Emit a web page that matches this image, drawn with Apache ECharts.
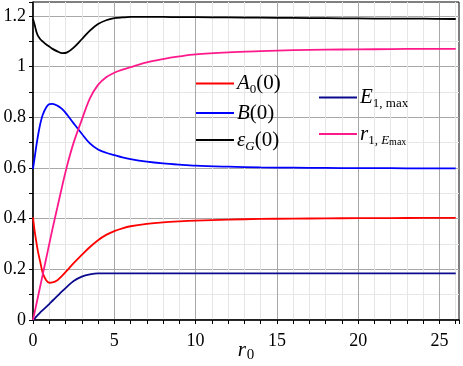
<!DOCTYPE html>
<html>
<head>
<meta charset="utf-8">
<script src="https://cdn.jsdelivr.net/npm/echarts@6/dist/echarts.min.js"></script>
<style>
  html, body { margin: 0; padding: 0; background: #fff; }
  #chart { width: 463px; height: 366px; }
</style>
</head>
<body>
<div id="chart"></div>
<script>
// r0 sample points (denser near 0 where curves bend)
const r0 = [0, 0.1, 0.2, 0.3, 0.45, 0.6, 0.8, 1, 1.2, 1.5, 1.8, 2.1, 2.5, 3, 3.5, 4, 4.5, 5, 5.5, 6, 7, 8, 9, 10, 12, 14, 16, 18, 20, 22, 24, 26]

const A0 = [0.405, 0.352, 0.31, 0.272, 0.228, 0.185, 0.158, 0.147, 0.148, 0.157, 0.175, 0.196, 0.224, 0.257, 0.288, 0.315, 0.336, 0.351, 0.362, 0.37, 0.379, 0.385, 0.389, 0.392, 0.396, 0.399, 0.4, 0.401, 0.402, 0.402, 0.403, 0.403]
const B0 = [0.596, 0.64, 0.685, 0.725, 0.775, 0.81, 0.838, 0.852, 0.853, 0.846, 0.832, 0.81, 0.776, 0.735, 0.697, 0.673, 0.66, 0.651, 0.642, 0.635, 0.625, 0.618, 0.613, 0.609, 0.605, 0.602, 0.601, 0.6, 0.599, 0.599, 0.598, 0.598]
const epsG = [1.188, 1.165, 1.14, 1.122, 1.108, 1.099, 1.088, 1.079, 1.07, 1.06, 1.053, 1.056, 1.075, 1.108, 1.142, 1.168, 1.183, 1.191, 1.194, 1.196, 1.196, 1.196, 1.195, 1.195, 1.194, 1.193, 1.192, 1.191, 1.19, 1.189, 1.189, 1.188]
const E1max = [0, 0.006, 0.013, 0.02, 0.03, 0.039, 0.051, 0.063, 0.076, 0.095, 0.114, 0.132, 0.154, 0.171, 0.18, 0.184, 0.184, 0.184, 0.184, 0.184, 0.184, 0.184, 0.184, 0.184, 0.184, 0.184, 0.184, 0.184, 0.184, 0.184, 0.184, 0.184]
const r1Emax = [0, 0.03, 0.06, 0.09, 0.135, 0.18, 0.24, 0.3, 0.36, 0.445, 0.53, 0.61, 0.7, 0.79, 0.875, 0.928, 0.958, 0.976, 0.988, 0.998, 1.017, 1.03, 1.04, 1.048, 1.056, 1.061, 1.065, 1.067, 1.068, 1.069, 1.07, 1.07]

const serif = 'Liberation Serif'

// legend label markup (subscripts via rich text)
const labels = {
  'A0(0)': '{i|A}{s|0}{n|(0)}',
  'B(0)': '{i|B}{n|(0)}',
  'εG(0)': '{i|ε}{si|G}{n|(0)}',
  'E1,max': '{i|E}{s|1, max}',
  'r1,Emax': '{i|r}{s|1, }{si|E}{ss|max}'
}
const rich = {
  i: { fontFamily: serif, fontSize: 21, fontStyle: 'italic', lineHeight: 26, color: '#000' },
  n: { fontFamily: serif, fontSize: 21, lineHeight: 26, color: '#000' },
  s: { fontFamily: serif, fontSize: 13, lineHeight: 6, verticalAlign: 'bottom', color: '#000' },
  si: { fontFamily: serif, fontSize: 13, fontStyle: 'italic', lineHeight: 6, verticalAlign: 'bottom', color: '#000' },
  ss: { fontFamily: serif, fontSize: 10, lineHeight: 2, verticalAlign: 'bottom', color: '#000' }
}

function pairs(ys) {
  return r0.map((x, k) => [x, ys[k]])
}

function mkLine(name, ys, color) {
  return {
    name: name,
    type: 'line',
    data: pairs(ys),
    showSymbol: false,
    symbol: 'none',
    smooth: 0.35,
    lineStyle: { color: color, width: 1.8 },
    itemStyle: { color: color }
  }
}

let chart = echarts.init(document.getElementById('chart'), null, { renderer: 'canvas' })

chart.setOption({
  animation: false,
  backgroundColor: '#fff',
  textStyle: { fontFamily: serif },
  grid: {
    left: 33, right: 4, top: 2, bottom: 46,
    outerBoundsMode: 'none', containLabel: false,
    show: true, borderColor: '#000', borderWidth: 1, backgroundColor: 'transparent'
  },
  legend: [
    {
      data: ['A0(0)', 'B(0)', 'εG(0)'],
      orient: 'vertical', left: 196, top: 73, itemGap: 6, padding: 0,
      icon: 'rect', itemWidth: 38, itemHeight: 2,
      selectedMode: false,
      formatter: n => labels[n],
      textStyle: { rich: rich, padding: [0, 0, 0, -2] }
    },
    {
      data: ['E1,max', 'r1,Emax'],
      orient: 'vertical', left: 319, top: 87, itemGap: 13, padding: 0,
      icon: 'rect', itemWidth: 38, itemHeight: 2,
      selectedMode: false,
      formatter: n => labels[n],
      textStyle: { rich: rich, padding: [0, 0, 0, -2] }
    }
  ],
  xAxis: {
    type: 'value', min: 0, max: 26.2, interval: 1,
    name: '{i|r}{s|0}', nameLocation: 'middle', nameGap: 17, nameMoveOverlap: false,
    nameTextStyle: {
      rich: {
        i: { fontFamily: serif, fontSize: 21, fontStyle: 'italic', lineHeight: 26, color: '#000' },
        s: { fontFamily: serif, fontSize: 15, lineHeight: 8, verticalAlign: 'bottom', color: '#000', padding: [0, 0, 0, 1] }
      }
    },
    axisLine: { onZero: false, lineStyle: { color: '#000', width: 1.5 } },
    axisTick: { show: true, length: 4, lineStyle: { color: '#000' } },
    axisLabel: {
      margin: 12, fontFamily: serif, fontSize: 18, color: '#000',
      formatter: v => (Math.abs(v / 5 - Math.round(v / 5)) < 1e-6 ? String(Math.round(v)) : '')
    },
    splitLine: { show: true, showMaxLine: false, lineStyle: { color: ['#a8a8a8', '#e6e6e6', '#e6e6e6', '#e6e6e6', '#e6e6e6'], width: 1 } }
  },
  yAxis: {
    type: 'value', min: 0, max: 1.255, interval: 0.1,
    axisLine: { onZero: false, lineStyle: { color: '#000', width: 1.5 } },
    axisTick: { show: true, length: 4, lineStyle: { color: '#000' } },
    axisLabel: {
      margin: 7, fontFamily: serif, fontSize: 18, color: '#000',
      formatter: v => (Math.abs(v * 5 - Math.round(v * 5)) < 1e-6 ? String(+v.toFixed(1)) : '')
    },
    splitLine: { show: true, showMaxLine: false, lineStyle: { color: ['#a8a8a8', '#e6e6e6'], width: 1 } }
  },
  series: [
    mkLine('A0(0)', A0, '#ff0000'),
    mkLine('B(0)', B0, '#0000ff'),
    mkLine('εG(0)', epsG, '#000000'),
    mkLine('E1,max', E1max, '#0a0a8f'),
    mkLine('r1,Emax', r1Emax, '#ff1a8c')
  ]
})
</script>
</body>
</html>
